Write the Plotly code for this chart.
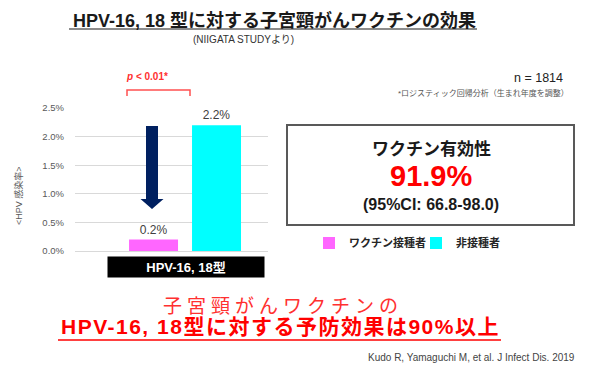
import plotly.graph_objects as go

# page body has an 8px margin, so the figure is sized to the visible area
OFF = 8
W, H = 599 - OFF, 374 - OFF
FONT = "Liberation Sans, Arial, Noto Sans CJK JP, sans-serif"

# ---- data ----
categories = ["HPV-16, 18型"]
series_names = ["ワクチン接種者", "非接種者"]
vaccinated = [0.2]
unvaccinated = [2.2]
value_labels_vacc = ["0.2%"]
value_labels_unvacc = ["2.2%"]
series_colors = ["#FF66FF", "#00FFFF"]
y_ticks = [0.0, 0.5, 1.0, 1.5, 2.0, 2.5]
efficacy = "91.9%"
ci_text = "(95%CI: 66.8-98.0)"
n_text = "n = 1814"


def px(x):
    return (x - OFF) / W


def py(y):
    return 1 - (y - OFF) / H


def note(x, y, text, size, color, xanchor="center", **kw):
    d = dict(x=px(x), y=py(y), xref="paper", yref="paper", xanchor=xanchor,
             yanchor="middle", text=text, showarrow=False,
             font=dict(size=size, color=color, family=FONT))
    d.update(kw)
    return d


fig = go.Figure()
fig.add_trace(go.Bar(
    x=categories, y=vaccinated, name=series_names[0],
    marker=dict(color=series_colors[0], line=dict(width=0)),
    text=value_labels_vacc, textposition="outside", cliponaxis=False,
    textfont=dict(size=12, color="#404040", family=FONT),
))
fig.add_trace(go.Bar(
    x=categories, y=unvaccinated, name=series_names[1],
    marker=dict(color=series_colors[1], line=dict(width=0)),
    text=value_labels_unvacc, textposition="outside", cliponaxis=False,
    textfont=dict(size=12, color="#404040", family=FONT),
))

annotations = []
shapes = []

# Title
annotations.append(note(274, 20, "<b>HPV-16, 18 型に対する子宮頸がんワクチンの効果</b>", 18, "#1a1a1a"))
shapes.append(dict(type="line", xref="paper", yref="paper", x0=px(69), x1=px(477),
                   y0=py(29), y1=py(29), line=dict(color="#8c8c8c", width=2)))
annotations.append(note(243, 40, "(NIIGATA STUDYより)", 10, "#333333"))

# p-value and bracket
annotations.append(note(147, 76, "<b><i>p</i> < 0.01*</b>", 10, "#FF3030"))
shapes.append(dict(type="path", xref="paper", yref="paper",
                   path=f"M{px(127)},{py(96)} L{px(127)},{py(90)} L{px(190)},{py(90)} L{px(190)},{py(96)}",
                   line=dict(color="#FF5050", width=1.5)))

# n and note
annotations.append(note(538, 78, n_text, 12.5, "#222222"))
annotations.append(note(571, 93, "*ロジスティック回帰分析（生まれ年度を調整）", 8, "#555555", xanchor="right"))

# Efficacy box
shapes.append(dict(type="rect", xref="paper", yref="paper", x0=px(287), x1=px(574),
                   y0=py(225), y1=py(125), line=dict(color="#595959", width=2)))
annotations.append(note(431, 149, "<b>ワクチン有効性</b>", 17, "#1a1a1a"))
annotations.append(note(431, 176, f"<b>{efficacy}</b>", 29, "#FF0000"))
annotations.append(note(431, 204, f"<b>{ci_text}</b>", 16, "#1a1a1a"))

# Category label box
annotations.append(note(186, 267, f"<b>{categories[0]}</b>", 13, "#FFFFFF",
                        bgcolor="#000000", width=154, height=18, borderpad=1))

# Y axis title
annotations.append(note(18, 196, "<HPV 感染率>", 9, "#595959", textangle=-90))

# Arrow (down, from non-vaccinated level toward vaccinated)
ax, sw, hw = 152, 6, 11.5
y_top = unvaccinated[0] * 0.993
y_head = 0.91
y_tip = 0.735
shapes.append(dict(type="path", xref="paper", yref="y",
                   path=(f"M{px(ax - sw)},{y_top} L{px(ax + sw)},{y_top} "
                         f"L{px(ax + sw)},{y_head} L{px(ax + hw)},{y_head} "
                         f"L{px(ax)},{y_tip} L{px(ax - hw)},{y_head} "
                         f"L{px(ax - sw)},{y_head} Z"),
                   fillcolor="#002060", line=dict(width=0)))

# Bottom message
annotations.append(note(283, 306, '<span style="letter-spacing:5px">子宮頸がんワクチンの</span>',
                        19, "#FF3030"))
annotations.append(note(280, 326, '<b><span style="letter-spacing:1.5px">HPV-16, 18型に対する予防効果は90%以上</span></b>',
                        21, "#FF0000"))
shapes.append(dict(type="line", xref="paper", yref="paper", x0=px(58), x1=px(501),
                   y0=py(340), y1=py(340), line=dict(color="#FF0000", width=1.5)))
annotations.append(note(577, 357, "Kudo R, Yamaguchi M, et al. J Infect Dis. 2019", 10, "#444444",
                        xanchor="right"))

fig.update_layout(
    template="none",
    width=W, height=H, autosize=False,
    margin=dict(l=0, r=0, t=0, b=0, pad=0, autoexpand=False),
    paper_bgcolor="white", plot_bgcolor="white",
    font=dict(family=FONT),
    barmode="group", bargap=0.241, bargroupgap=0.222,
    showlegend=True,
    legend=dict(orientation="h", x=px(309), y=py(243), xanchor="left", yanchor="middle",
                font=dict(size=11, color="#262626", family=FONT, weight="bold"),
                itemwidth=30, entrywidth=62, entrywidthmode="pixels",
                bgcolor="rgba(0,0,0,0)", tracegroupgap=0),
    xaxis=dict(domain=[px(75), px(268)], range=[-0.663, 0.5], showticklabels=False,
               showgrid=False, zeroline=False, showline=False, fixedrange=True,
               automargin=False),
    yaxis=dict(domain=[py(251), py(108)], range=[0, 2.5], tickvals=y_ticks,
               ticktext=[f"{v:.1f}%" for v in y_ticks],
               tickfont=dict(size=9.5, color="#595959", family=FONT),
               showgrid=True, gridcolor="#D9D9D9", gridwidth=1,
               zeroline=True, zerolinecolor="#D9D9D9", zerolinewidth=1,
               showline=False, ticks="", ticklabelstandoff=10, automargin=False),
    annotations=annotations,
    shapes=shapes,
)

fig.write_html("out.html")
